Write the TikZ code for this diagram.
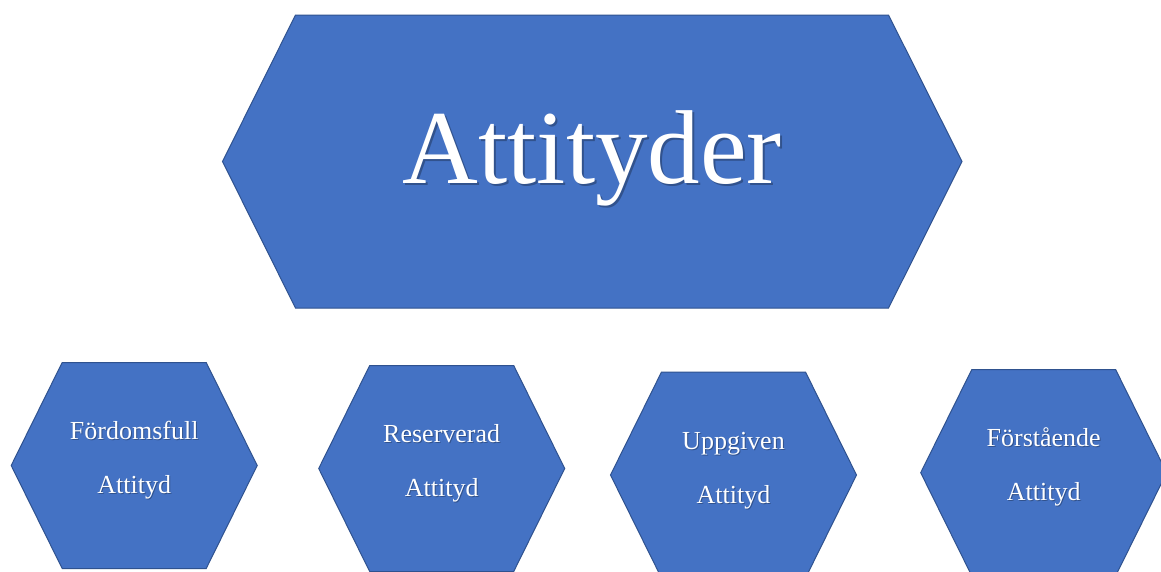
\documentclass[tikz,border=0pt]{standalone}
\usepackage{fontspec}
\setmainfont{Liberation Serif}
\usetikzlibrary{calc}
\definecolor{hexblue}{HTML}{4472C4}
\definecolor{hexedge}{HTML}{2F528F}
\colorlet{textshade}{hexblue!72!black}
% white text with a soft drop shadow set behind it in the same box
\newcommand{\shadedtext}[2]{%
  \makebox[0pt][l]{\hspace*{#1}\raisebox{-#1}{\textcolor{textshade}{#2}}}\textcolor{white}{#2}}
\tikzset{
  hexagon/.style={fill=hexblue, draw=hexedge, line width=1pt, line join=miter},
  label/.style={inner sep=0pt, anchor=base, font=\fontsize{26}{30}\selectfont},
  titletext/.style={inner sep=0pt, anchor=base, font=\fontsize{105}{120}\selectfont}
}
% small hexagon: centre, name, then its two text lines
\newcommand{\smallhex}[5]{%
  \draw[hexagon, shift={(#1,#2)}] (-123,0) -- (-72,-103) -- (72,-103) -- (123,0) -- (72,103) -- (-72,103) -- cycle;
  \node[label] (#3a) at ($(#1,#2)+(0,-26)$) {\shadedtext{1pt}{#4}};
  \node[label] (#3b) at ($(#1,#2)+(0,28)$) {\shadedtext{1pt}{#5}};
}
\begin{document}
\begin{tikzpicture}[x=1pt,y=-1pt]
  \useasboundingbox (0,0) rectangle (1161,571);
  \clip (0,0) rectangle (1161,571);
  \fill[white] (0,0) rectangle (1161,571);

  % main heading hexagon
  \draw[hexagon] (222.5,161.5) -- (295.5,15) -- (888.5,15) -- (962,161.5) -- (888.5,308) -- (295.5,308) -- cycle;
  \node[titletext] (title) at (592.3,183.3) {\shadedtext{2pt}{Attityder}};

  % the four kinds of attitude
  \smallhex{134.2}{465.5}{h1}{Fördomsfull}{Attityd}
  \smallhex{441.7}{468.5}{h2}{Reserverad}{Attityd}
  \smallhex{733.5}{475}{h3}{Uppgiven}{Attityd}
  \smallhex{1043.7}{472.7}{h4}{Förstående}{Attityd}
\end{tikzpicture}
\end{document}
